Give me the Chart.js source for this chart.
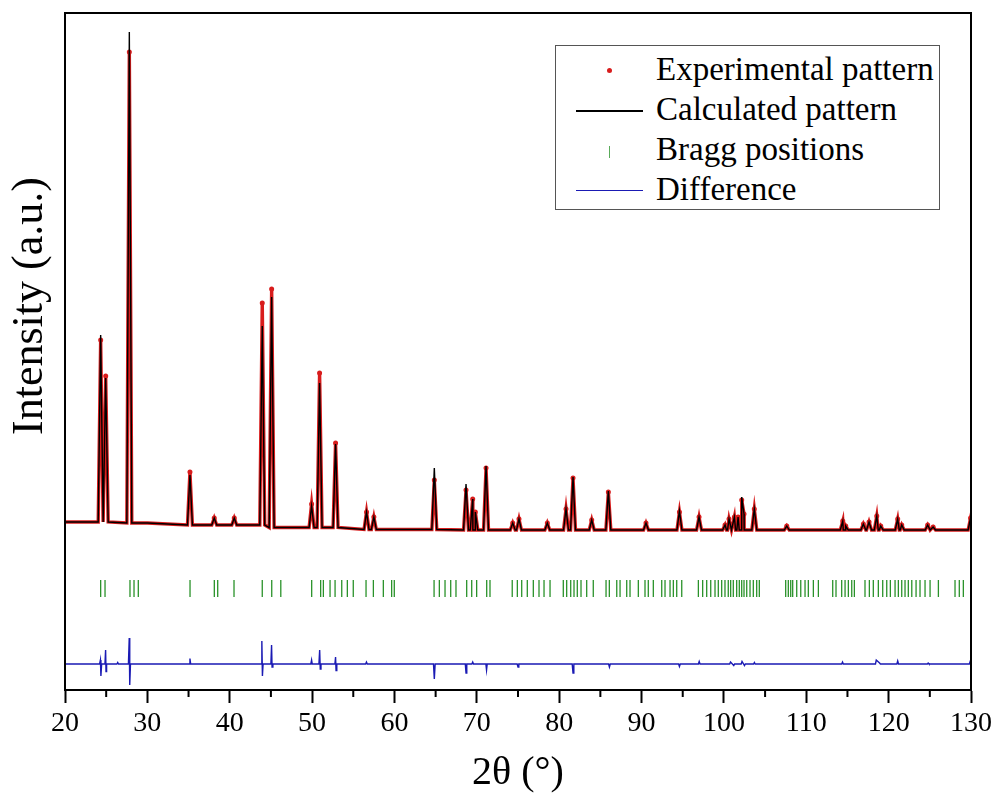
<!DOCTYPE html>
<html>
<head>
<meta charset="utf-8">
<script src="https://cdn.jsdelivr.net/npm/chart.js@4.4.0/dist/chart.umd.min.js"></script>
<style>
  body { margin: 0; background: #fff; }
  #wrap { position: relative; width: 998px; height: 798px; }
  #legend {
    position: absolute; left: 555px; top: 45px; width: 385px; height: 165px;
    box-sizing: border-box; border: 1px solid #555; background: #fff; padding-top: 3px;
    font-family: "Liberation Serif", "Times New Roman", serif; font-size: 33px; color: #000;
  }
  .row { height: 40px; line-height: 40px; display: flex; white-space: nowrap; }
  .mark { width: 100px; height: 40px; position: relative; flex: none; }
  .mark span { position: absolute; display: block; }
</style>
</head>
<body>
<div id="wrap">
  <canvas id="chart" width="998" height="798"></canvas>
  <div id="legend"></div>
</div>
<script>
// x axis
const xTicks = [20, 30, 40, 50, 60, 70, 80, 90, 100, 110, 120, 130];
const xMinor = [25, 35, 45, 55, 65, 75, 85, 95, 105, 115, 125];

const peakAngle = [24.33, 24.94, 27.81, 35.17, 38.12, 40.55, 43.95, 45.09, 49.94, 50.91,
  52.85, 56.61, 57.5, 64.84, 68.69, 69.5, 69.82, 71.12, 74.36, 75.12,
  78.56, 80.83, 81.68, 83.95, 85.97, 90.54, 94.6, 96.98, 100.14, 100.62,
  101.27, 101.72, 102.16, 102.44, 103.69, 107.63, 114.43, 114.79, 116.93, 117.62,
  118.56, 119.04, 121.1, 121.59, 124.74, 125.4, 129.95];
const peakCalc = [5100, 4240, 11160, 2300, 1440, 1440, 5280, 5860, 1680, 4140,
  2920, 1560, 1460, 2440, 2120, 1820, 1560, 2480, 1340, 1420,
  1340, 1620, 2260, 1400, 1980, 1340, 1580, 1460, 1300, 1420,
  1460, 1460, 1860, 1520, 1620, 1280, 1380, 1280, 1320, 1360,
  1480, 1280, 1420, 1300, 1300, 1260, 1440];
const peakObs = [5000, 4280, 10760, 2360, 1440, 1440, 5740, 6020, 1720, 4340,
  2940, 1560, 1460, 2200, 2000, 1820, 1560, 2440, 1340, 1420,
  1340, 1620, 2240, 1400, 1960, 1340, 1560, 1460, 1300, 1420,
  1460, 1460, 1800, 1520, 1620, 1280, 1380, 1280, 1320, 1360,
  1480, 1280, 1420, 1300, 1300, 1260, 1440];

// background level
const bgAngle = [20, 30, 40, 50, 60, 70, 80, 90, 100, 110, 120, 130];
const bgLevel = [1360, 1340, 1300, 1250, 1210, 1200, 1200, 1200, 1200, 1200, 1200, 1200];

// Bragg reflection markers
const braggAngle = [24.33, 24.86, 27.89, 28.38, 28.9, 35.18, 38.13, 38.54, 40.52, 43.95, 45.1, 46.2,
  49.95, 51.04, 51.37, 52.18, 52.79, 53.6, 54.28, 55.0, 56.55, 57.44, 58.65, 59.66, 59.98,
  64.81, 65.45, 66.14, 66.83, 67.47, 68.77, 69.38, 69.98, 71.2, 71.6,
  74.3, 74.92, 75.45, 76.13, 76.86, 77.55, 78.16, 78.89,
  80.5, 80.91, 81.4, 81.8, 82.2, 82.65, 83.34, 84.14,
  85.69, 86.09, 86.99, 87.39, 88.2, 88.6, 89.61, 90.42, 90.82, 91.43, 92.45, 92.85, 93.46, 93.86, 94.27, 94.88,
  96.9, 97.42, 97.91, 98.4, 98.92, 99.32, 99.73, 100.13, 100.53, 100.82, 101.14, 101.55, 101.87,
  102.16, 102.44, 102.77, 103.17, 103.57, 103.98, 104.3,
  107.5, 107.82, 108.11, 108.35, 108.84, 109.33, 109.85, 110.25, 110.86, 111.47,
  113.21, 113.61, 114.3, 114.71, 115.11, 115.52, 115.84,
  117.13, 117.66, 118.14, 118.75, 119.28, 119.77, 120.21, 120.78, 121.18, 121.59, 121.99,
  122.39, 122.81, 123.33, 123.81, 124.42, 125.03, 126.04,
  128.06, 128.58, 129.07, 129.96];

// observed - calculated
const diffAngle = [20,
  24.2, 24.3, 24.36, 24.45, 24.85, 24.93, 24.98, 25.05,
  26.3, 26.4, 26.5, 27.7, 27.8, 27.86, 27.95,
  35.08, 35.17, 35.26,
  43.8, 43.9, 43.97, 44.05, 45.0, 45.08, 45.14, 45.24,
  49.85, 49.94, 50.02, 50.83, 50.92, 50.99, 51.08,
  52.77, 52.85, 52.91, 53.0, 56.5, 56.6, 56.7,
  64.74, 64.84, 64.94, 68.6, 68.69, 68.78, 69.4, 69.5, 69.6,
  71.1, 71.18, 71.26, 74.9, 75.0, 75.1,
  81.58, 81.68, 81.78, 86.0, 86.1, 86.2,
  94.5, 94.6, 94.7, 96.9, 97.0, 97.1,
  100.7, 100.8, 101.2, 101.3, 102.1, 102.2, 102.5, 102.6, 103.6, 103.7, 103.8,
  114.3, 114.4, 114.5, 118.4, 118.5, 118.9, 119.0,
  121.0, 121.1, 121.2, 124.7, 124.8, 124.9, 129.8, 130];
const diffValue = [0,
  0, 80, -240, 0, 0, 280, -150, 0,
  0, 30, 0, 0, 520, -420, 0,
  0, 110, 0,
  0, 460, -240, 0, 0, 380, -60, 0,
  0, 80, 0, 0, 280, -100, 0,
  0, 140, -130, 0, 0, 40, 0,
  0, -300, 0, 0, -180, 0, 0, 40, 0,
  0, -120, 0, 0, -60, 0,
  0, -180, 0, 0, -60, 0,
  0, -50, 0, 0, 50, 0,
  0, 40, -30, 0, 0, 50, -30, 0, 0, 30, 0,
  0, 40, 0, 0, 80, 20, 0,
  0, 60, 0, 0, 20, 0, 0, 100];

const braggLevel = 30;
const diffOffset = -1480;
const foot = 0.3;

const red = "#d81c1c";
const green = "#2a922a";
const blue = "#1a1ab4";
const serif = "'Liberation Serif', 'Times New Roman', serif";

function nearestBg(a) {
  let best = 0;
  bgAngle.forEach((b, i) => {
    if (Math.abs(b - a) < Math.abs(bgAngle[best] - a)) best = i;
  });
  return bgLevel[best];
}

function profile(tops) {
  const pts = [];
  bgAngle.forEach((a, i) => {
    if (!peakAngle.some((p) => Math.abs(p - a) < foot)) pts.push({ x: a, y: bgLevel[i] });
  });
  peakAngle.forEach((a, i) => {
    const base = nearestBg(a);
    pts.push({ x: a - foot, y: base }, { x: a, y: tops[i], top: true }, { x: a + foot, y: base });
  });
  pts.sort((p, q) => p.x - q.x);
  return pts;
}

const framePlugin = {
  id: "frame",
  afterDraw(chart) {
    const { ctx, chartArea } = chart;
    const xs = chart.scales.x;
    ctx.save();
    ctx.strokeStyle = "#000";
    ctx.lineWidth = 2;
    ctx.strokeRect(chartArea.left, chartArea.top, chartArea.right - chartArea.left, chartArea.bottom - chartArea.top);
    ctx.beginPath();
    xMinor.forEach((v) => {
      const px = xs.getPixelForValue(v);
      ctx.moveTo(px, chartArea.bottom);
      ctx.lineTo(px, chartArea.bottom + 7);
    });
    ctx.stroke();
    // y axis title
    ctx.translate(30, 306);
    ctx.rotate(-Math.PI / 2);
    ctx.fillStyle = "#000";
    ctx.font = "44px " + serif;
    ctx.textAlign = "center";
    ctx.textBaseline = "middle";
    ctx.fillText("Intensity (a.u.)", 0, 0);
    ctx.restore();
  },
};

const chart = new Chart(document.getElementById("chart"), {
  type: "line",
  data: {
    datasets: [
      {
        label: "Experimental pattern",
        data: profile(peakObs),
        borderColor: red,
        borderWidth: 3.4,
        pointRadius: (c) => (c.raw && c.raw.top ? 2.5 : 0),
        pointBackgroundColor: red,
        pointBorderWidth: 0,
        order: 2,
      },
      {
        label: "Calculated pattern",
        data: profile(peakCalc),
        borderColor: "#000",
        borderWidth: 1.4,
        pointRadius: 0,
        order: 1,
      },
      {
        label: "Bragg positions",
        data: braggAngle.map((a) => ({ x: a, y: braggLevel })),
        showLine: false,
        pointStyle: "line",
        pointRotation: 90,
        pointRadius: 8.5,
        pointBorderColor: green,
        pointBorderWidth: 1.3,
        borderColor: green,
        order: 3,
      },
      {
        label: "Difference",
        data: diffAngle.map((a, i) => ({ x: a, y: diffOffset + diffValue[i] })),
        borderColor: blue,
        borderWidth: 1.4,
        pointRadius: 0,
        order: 4,
      },
    ],
  },
  options: {
    responsive: false,
    animation: false,
    layout: { padding: { top: 13, right: 27, left: 0, bottom: 0 } },
    elements: { line: { tension: 0 } },
    plugins: { legend: { display: false }, tooltip: { enabled: false } },
    scales: {
      x: {
        type: "linear",
        min: 20,
        max: 130,
        afterBuildTicks: (s) => {
          s.ticks = xTicks.map((v) => ({ value: v }));
        },
        afterFit: (s) => {
          s.height = 108;
        },
        ticks: { color: "#000", font: { family: serif, size: 28 }, padding: 4, maxRotation: 0 },
        grid: { drawOnChartArea: false, tickLength: 13, tickWidth: 2, tickColor: "#000" },
        border: { color: "#000", width: 2 },
        title: { display: true, text: "2θ (°)", color: "#000", font: { family: serif, size: 40 }, padding: { top: 0, bottom: 1 } },
      },
      y: {
        min: -2000,
        max: 11540,
        afterFit: (s) => {
          s.width = 65;
        },
        ticks: { display: false },
        grid: { display: false },
        border: { color: "#000", width: 2 },
      },
    },
  },
  plugins: [framePlugin],
});

// legend built from the datasets
const legend = document.getElementById("legend");
chart.data.datasets.forEach((ds, i) => {
  const row = document.createElement("div");
  row.className = "row";
  const mark = document.createElement("div");
  mark.className = "mark";
  const m = document.createElement("span");
  if (i === 0) {
    Object.assign(m.style, { left: "51px", top: "19px", width: "5px", height: "5px", borderRadius: "50%", background: red });
  } else if (i === 2) {
    Object.assign(m.style, { left: "53px", top: "17px", width: "1px", height: "12px", background: "#5aab5a" });
  } else {
    Object.assign(m.style, { left: "20px", top: "21px", width: "67px", height: i === 1 ? "1.5px" : "1.2px", background: ds.borderColor });
  }
  mark.appendChild(m);
  const label = document.createElement("span");
  label.textContent = ds.label;
  row.appendChild(mark);
  row.appendChild(label);
  legend.appendChild(row);
});
</script>
</body>
</html>
